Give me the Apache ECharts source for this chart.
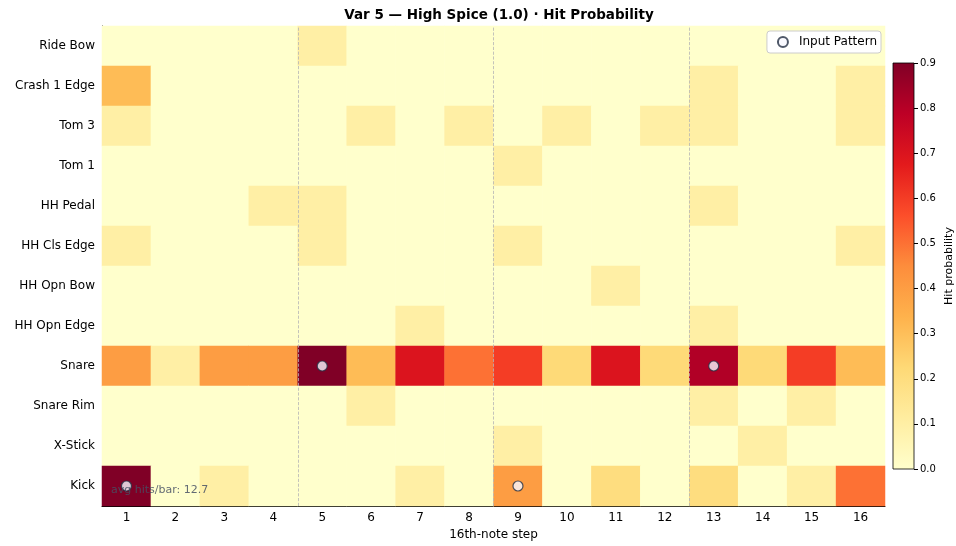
<!DOCTYPE html>
<html>
<head>
<meta charset="utf-8">
<script src="https://cdn.jsdelivr.net/npm/echarts@6/dist/echarts.min.js"></script>
<style>
  html, body { margin: 0; padding: 0; background: #fff; }
  #chart { width: 956px; height: 546px; }
</style>
</head>
<body>
<div id="chart"></div>
<script>
var steps = ['1','2','3','4','5','6','7','8','9','10','11','12','13','14','15','16'];
var instruments = ['Ride Bow','Crash 1 Edge','Tom 3','Tom 1','HH Pedal','HH Cls Edge',
                   'HH Opn Bow','HH Opn Edge','Snare','Snare Rim','X-Stick','Kick'];

// hit probability per instrument (rows, top to bottom), 16 steps each
var ridebow   = [0,0,0,0,0.1,0,0,0,0,0,0,0,0,0,0,0];
var crash     = [0.31,0,0,0,0,0,0,0,0,0,0,0,0.1,0,0,0.1];
var tom3      = [0.1,0,0,0,0,0.1,0,0.1,0,0.1,0,0.1,0.1,0,0,0.1];
var tom1      = [0,0,0,0,0,0,0,0,0.1,0,0,0,0,0,0,0];
var hhpedal   = [0,0,0,0.1,0.1,0,0,0,0,0,0,0,0.1,0,0,0];
var hhcls     = [0.1,0,0,0,0.1,0,0,0,0.1,0,0,0,0,0,0,0.1];
var hhopnbow  = [0,0,0,0,0,0,0,0,0,0,0.1,0,0,0,0,0];
var hhopnedge = [0,0,0,0,0,0,0.1,0,0,0,0,0,0.1,0,0,0];
var snare     = [0.4,0.1,0.4,0.4,0.9,0.31,0.7,0.5,0.6,0.22,0.7,0.22,0.81,0.22,0.6,0.31];
var snarerim  = [0,0,0,0,0,0.1,0,0,0,0,0,0,0.1,0,0.1,0];
var xstick    = [0,0,0,0,0,0,0,0,0.1,0,0,0,0,0.1,0,0];
var kick      = [0.9,0,0.1,0,0,0,0.1,0,0.4,0,0.2,0,0.2,0,0.1,0.5];

var rows = [ridebow, crash, tom3, tom1, hhpedal, hhcls, hhopnbow, hhopnedge, snare, snarerim, xstick, kick];

// input pattern hits
var inputSteps = ['1','5','9','13'];
var inputInstruments = ['Kick','Snare','Kick','Snare'];

// bar dividers (between beats)
var beatLines = [4.5, 8.5, 12.5];

var avgHits = 12.7;

var ylorrd = ['#ffffcc','#ffeda0','#fed976','#feb24c','#fd8d3c','#fc4e2a','#e31a1c','#bd0026','#800026'];

var heatData = [];
rows.forEach(function (row, r) {
    row.forEach(function (v, c) {
        heatData.push([c, r, v]);
    });
});
var inputData = inputSteps.map(function (s, i) { return [s, inputInstruments[i]]; });

var myChart = echarts.init(document.getElementById('chart'));

option = {
    animation: false,
    textStyle: { fontFamily: 'DejaVu Sans' },
    title: {
        text: 'Var 5 \u2014 High Spice (1.0) \u00b7 Hit Probability',
        left: 494,
        textAlign: 'center',
        top: 3,
        textStyle: { fontSize: 13.5, fontWeight: 'bold', color: '#000' }
    },
    legend: {
        data: ['Input Pattern'],
        right: 75,
        top: 31,
        padding: [5, 4, 5, 10],
        itemWidth: 10,
        itemHeight: 10,
        backgroundColor: '#fff',
        borderColor: '#ccc',
        borderWidth: 1,
        borderRadius: 3,
        textStyle: { fontSize: 12, color: '#000', padding: [0, 0, 0, 6] }
    },
    grid: [
        { left: 102, right: 71, top: 26, bottom: 40 },
        {
            left: 893, width: 21, top: 63, height: 406,
            show: true,
            borderColor: '#000',
            borderWidth: 0.8,
            backgroundColor: {
                type: 'linear', x: 0, y: 1, x2: 0, y2: 0,
                colorStops: ylorrd.map(function (c, i) {
                    return { offset: i / (ylorrd.length - 1), color: c };
                })
            }
        }
    ],
    xAxis: [
        {
            type: 'category',
            data: steps,
            gridIndex: 0,
            name: '16th-note step',
            nameLocation: 'middle',
            nameGap: 23,
            nameTextStyle: { fontSize: 12, color: '#000' },
            axisLine: { lineStyle: { color: '#000', width: 1 } },
            axisTick: { alignWithLabel: true, length: 4, lineStyle: { color: '#000' } },
            axisLabel: { fontSize: 12, color: '#000', margin: 6 },
            splitLine: { show: false }
        },
        { type: 'value', gridIndex: 0, min: 0.5, max: 16.5, show: false },
        { type: 'value', gridIndex: 1, min: 0, max: 1, show: false }
    ],
    yAxis: [
        {
            type: 'category',
            data: instruments,
            inverse: true,
            gridIndex: 0,
            axisLine: { lineStyle: { color: '#000', width: 1 } },
            axisTick: { alignWithLabel: true, length: 4, lineStyle: { color: '#000' } },
            axisLabel: { fontSize: 12, color: '#000', margin: 7 },
            splitLine: { show: false }
        },
        { type: 'value', gridIndex: 0, min: 0, max: 1, show: false },
        {
            type: 'value',
            gridIndex: 1,
            position: 'right',
            min: 0,
            max: 0.9,
            interval: 0.1,
            name: 'Hit probability',
            nameLocation: 'middle',
            nameRotate: 90,
            nameGap: 30,
            nameTextStyle: { fontSize: 11, color: '#000' },
            axisLine: { show: false, onZero: false },
            axisTick: { show: true, inside: false, length: 4, lineStyle: { color: '#000' } },
            axisLabel: {
                fontSize: 10, color: '#000', margin: 6,
                formatter: function (v) { return v.toFixed(1); }
            },
            splitLine: { show: false }
        }
    ],
    visualMap: {
        show: false,
        type: 'continuous',
        min: 0,
        max: 0.9,
        seriesIndex: 0,
        dimension: 2,
        inRange: { color: ylorrd }
    },
    series: [
        {
            type: 'heatmap',
            xAxisIndex: 0,
            yAxisIndex: 0,
            data: heatData,
            itemStyle: { borderWidth: 0 },
            emphasis: { disabled: true }
        },
        {
            type: 'line',
            xAxisIndex: 1,
            yAxisIndex: 1,
            data: [],
            silent: true,
            markLine: {
                silent: true,
                symbol: ['none', 'none'],
                label: { show: false },
                lineStyle: { color: '#b5b5b5', type: 'dashed', width: 0.8 },
                data: beatLines.map(function (v) { return { xAxis: v }; })
            }
        },
        {
            name: 'Input Pattern',
            type: 'scatter',
            xAxisIndex: 0,
            yAxisIndex: 0,
            data: inputData,
            symbol: 'circle',
            symbolSize: 10,
            itemStyle: { color: '#f8f8ff', borderColor: '#243044', borderWidth: 1.2 },
            emphasis: { disabled: true },
            z: 5
        }
    ],
    graphic: [
        {
            type: 'text',
            left: 111,
            top: 485,
            z: 10,
            style: {
                text: 'avg hits/bar: ' + avgHits,
                fill: 'rgba(70,80,100,0.85)',
                fontSize: 11,
                fontFamily: 'DejaVu Sans'
            }
        }
    ]
};
myChart.setOption(option);
</script>
</body>
</html>
